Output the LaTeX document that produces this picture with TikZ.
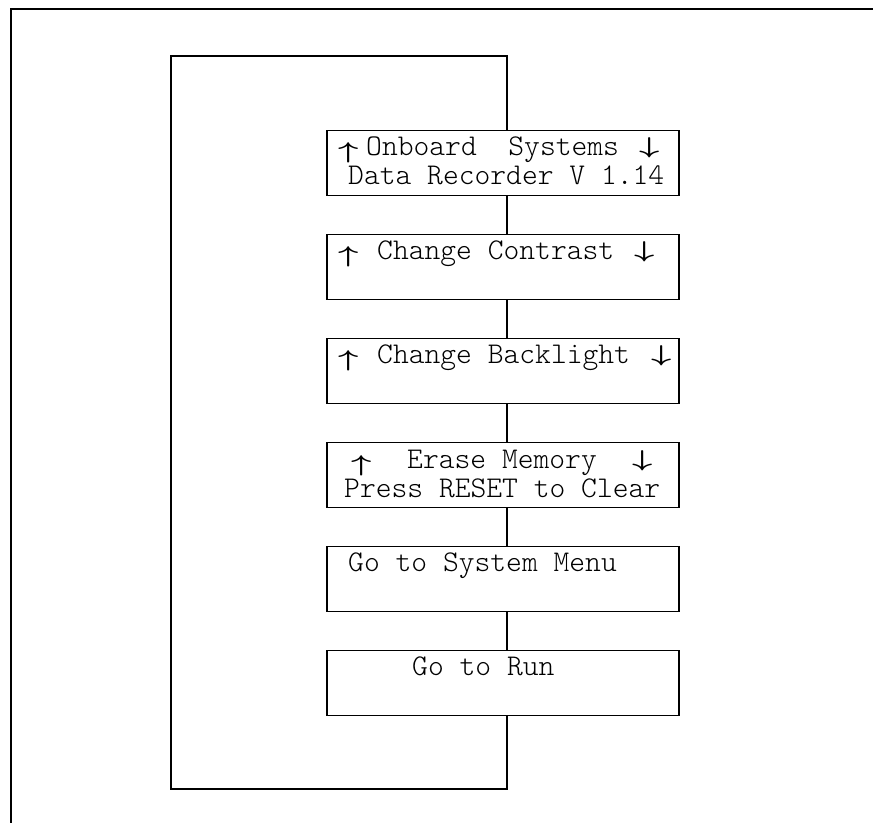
\documentclass[tikz,border=0pt]{standalone}
\usepackage{fontspec}
\usepackage{amsmath, amsbsy}
\usepackage{tikz}

\newcommand{\sobe}{\scalebox{1.7}[1.1]{\boldmath$\uparrow$}}
\newcommand{\desce}{\scalebox{1.7}[1.1]{\boldmath$\downarrow$}}

\begin{document}
\begin{tikzpicture}[x = 1pt, y = -1pt,
	tela/.style = {draw = black, line width = 1.5pt, minimum width = 352pt, minimum height = 65pt, inner sep = 0pt},
	texto/.style = {anchor = base west, inner sep = 0pt, font = \ttfamily\fontseries{l}\fontsize{30.1}{32}\selectfont},
	seta/.style = {anchor = base west, inner sep = 0pt, font = \fontsize{20.74}{24}\selectfont}]

	\useasboundingbox (0, 0) rectangle (873, 823);

	% Moldura
	\draw[solid, black, line width = 1.5pt] (873, 9) -- (11, 9) -- (11, 823);

	% Telas
	\node[tela] (inicio)    at (503, 163) {};
	\node[tela] (contraste) at (503, 267) {};
	\node[tela] (luz)       at (503, 371) {};
	\node[tela] (memoria)   at (503, 475) {};
	\node[tela] (sistema)   at (503, 579) {};
	\node[tela] (rodar)     at (503, 683) {};

	\coordinate (eixo) at (507, 0);
	\coordinate (volta1) at (507, 789);
	\coordinate (volta2) at (171, 789);
	\coordinate (volta3) at (171, 56);
	\coordinate (volta4) at (507, 56);

	\draw[solid, black, line width = 1.5pt] (inicio.south -| eixo) -- (contraste.north -| eixo);
	\draw[solid, black, line width = 1.5pt] (contraste.south -| eixo) -- (luz.north -| eixo);
	\draw[solid, black, line width = 1.5pt] (luz.south -| eixo) -- (memoria.north -| eixo);
	\draw[solid, black, line width = 1.5pt] (memoria.south -| eixo) -- (sistema.north -| eixo);
	\draw[solid, black, line width = 1.5pt] (sistema.south -| eixo) -- (rodar.north -| eixo);
	\draw[solid, black, line width = 1.5pt] (rodar.south -| eixo) -- (volta1) -- (volta2) -- (volta3) -- (volta4) -- (inicio.north -| eixo); % Retorno

	% Textos
	\node[seta]  (s1a) at (338, 158) {\sobe};
	\node[texto] (t1a) at (366, 155) {Onboard\ \ Systems};
	\node[seta]  (s1b) at (639, 153) {\desce};
	\node[texto] (t1b) at (348, 184) {Data Recorder V 1.14};

	\node[seta]  (s2a) at (338, 262) {\sobe};
	\node[texto] (t2a) at (377, 259) {Change Contrast};
	\node[seta]  (s2b) at (634, 257) {\desce};

	\node[seta]  (s3a) at (338, 366) {\sobe};
	\node[texto] (t3a) at (377, 363) {Change Backlight};
	\node[seta]  (s3b) at (651, 361) {\desce};

	\node[seta]  (s4a) at (351, 471) {\sobe};
	\node[texto] (t4a) at (407, 468) {Erase Memory};
	\node[seta]  (s4b) at (632, 466) {\desce};
	\node[texto] (t4b) at (344, 497) {Press RESET to Clear};

	\node[texto] (t5a) at (348, 571) {Go to System Menu};

	\node[texto] (t6a) at (412, 675) {Go to Run};

\end{tikzpicture}
\end{document}
